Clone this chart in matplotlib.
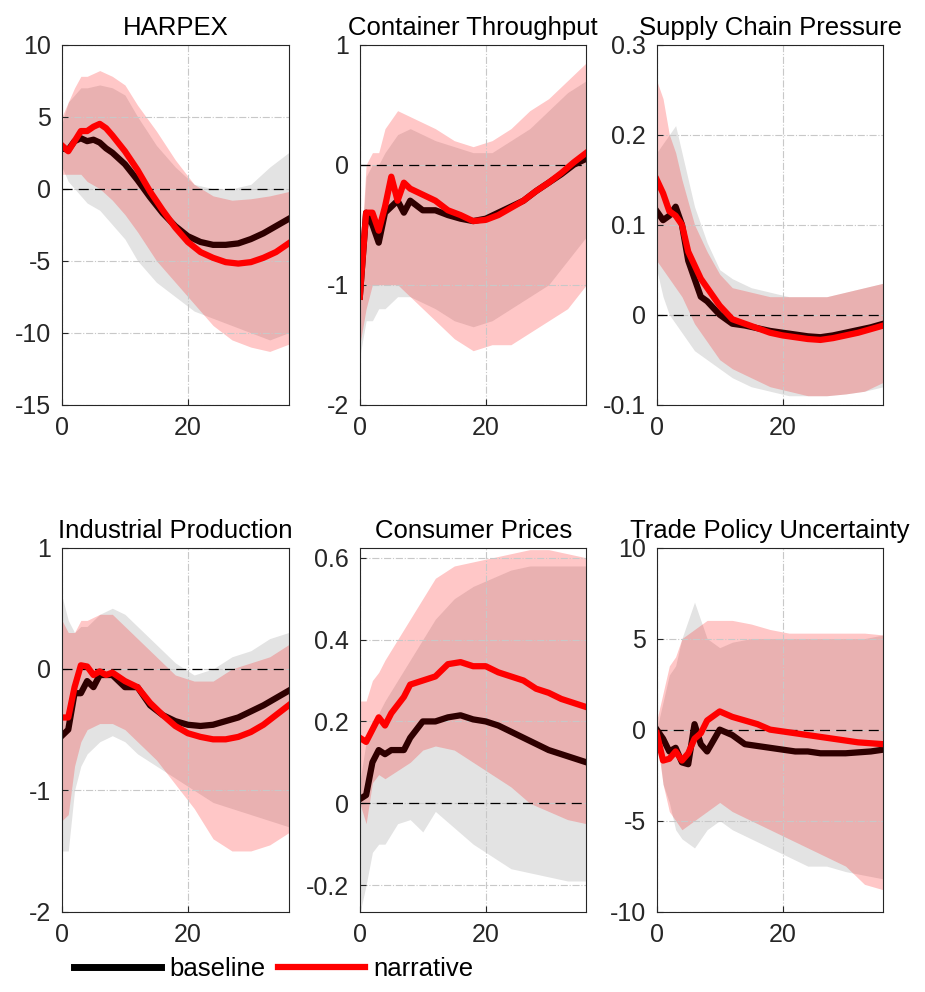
import numpy as np
import matplotlib
matplotlib.use("Agg")
import matplotlib.pyplot as plt

plt.rcParams['font.family'] = ['Liberation Sans', 'DejaVu Sans']

# horizons for medians and for bands
h = [0, 1, 2, 3, 4, 5, 6, 7, 8, 10, 12, 14, 16, 18, 20, 22, 24, 26, 28, 30, 32, 34, 36]
hb = [0, 1, 2, 3, 4, 6, 8, 10, 12, 15, 18, 21, 24, 27, 30, 33, 36]

titles = ["HARPEX", "Container Throughput", "Supply Chain Pressure",
          "Industrial Production", "Consumer Prices", "Trade Policy Uncertainty"]

# HARPEX
harpex_base = [2.8, 2.7, 3.3, 3.5, 3.3, 3.4, 3.2, 2.8, 2.5, 1.7, 0.6, -0.6, -1.7, -2.6, -3.3, -3.7, -3.9, -3.9, -3.8, -3.5, -3.1, -2.6, -2.1]
harpex_narr = [3.0, 2.6, 3.3, 4.0, 4.0, 4.3, 4.5, 4.2, 3.7, 2.6, 1.3, -0.2, -1.5, -2.7, -3.7, -4.4, -4.8, -5.1, -5.2, -5.1, -4.8, -4.4, -3.8]
harpex_base_hi = [4.5, 6, 6.5, 7, 7, 7.2, 7, 6.5, 5, 3, 1.5, 0.3, 0, 0, 0.3, 1.5, 2.5]
harpex_base_lo = [1.5, 0.5, 0, -0.5, -1, -1.5, -2.5, -3.5, -5, -6.5, -7.5, -8.5, -9, -9.5, -10, -10.5, -10]
harpex_narr_hi = [5, 6, 7, 7.8, 7.8, 8.2, 7.8, 7.2, 5.8, 4, 2, 0.3, -0.5, -0.8, -0.7, -0.5, -0.2]
harpex_narr_lo = [1, 1, 1, 1, 0.5, 0, -0.8, -1.8, -3, -5, -6.5, -8, -9.5, -10.5, -11, -11.3, -10.8]

# Container Throughput
cont_base = [-1.1, -0.4, -0.5, -0.65, -0.4, -0.35, -0.3, -0.4, -0.3, -0.38, -0.38, -0.42, -0.45, -0.47, -0.45, -0.4, -0.35, -0.3, -0.22, -0.15, -0.08, 0.0, 0.05]
cont_narr = [-1.1, -0.4, -0.4, -0.55, -0.35, -0.1, -0.3, -0.15, -0.2, -0.25, -0.3, -0.38, -0.42, -0.47, -0.46, -0.42, -0.36, -0.3, -0.22, -0.15, -0.07, 0.02, 0.1]
cont_base_hi = [-0.9, -0.1, 0, 0, 0.1, 0.25, 0.3, 0.25, 0.2, 0.15, 0.1, 0.1, 0.2, 0.3, 0.45, 0.6, 0.7]
cont_base_lo = [-1.6, -1.3, -1.3, -1.2, -1.2, -1.1, -1.1, -1.15, -1.2, -1.3, -1.35, -1.3, -1.2, -1.1, -1.0, -0.8, -0.6]
cont_narr_hi = [-0.9, 0, 0.1, 0.1, 0.3, 0.45, 0.4, 0.35, 0.3, 0.2, 0.15, 0.2, 0.3, 0.45, 0.55, 0.7, 0.85]
cont_narr_lo = [-1.5, -1.2, -1.0, -1.0, -1.0, -1.0, -1.1, -1.2, -1.3, -1.45, -1.55, -1.5, -1.5, -1.4, -1.3, -1.2, -1.0]

# Supply Chain Pressure
scp_base = [0.115, 0.105, 0.11, 0.12, 0.1, 0.06, 0.04, 0.02, 0.015, 0.0, -0.01, -0.012, -0.015, -0.018, -0.02, -0.022, -0.024, -0.025, -0.023, -0.02, -0.017, -0.014, -0.01]
scp_narr = [0.15, 0.135, 0.115, 0.11, 0.1, 0.07, 0.055, 0.04, 0.03, 0.01, -0.005, -0.01, -0.015, -0.02, -0.023, -0.025, -0.027, -0.028, -0.026, -0.023, -0.02, -0.016, -0.012]
scp_base_hi = [0.18, 0.19, 0.2, 0.21, 0.18, 0.12, 0.08, 0.05, 0.04, 0.03, 0.025, 0.02, 0.02, 0.02, 0.025, 0.03, 0.035]
scp_base_lo = [0.05, 0.02, 0.0, -0.01, -0.02, -0.04, -0.05, -0.06, -0.07, -0.08, -0.085, -0.09, -0.09, -0.09, -0.088, -0.085, -0.08]
scp_narr_hi = [0.26, 0.24, 0.2, 0.18, 0.15, 0.1, 0.07, 0.045, 0.03, 0.025, 0.02, 0.02, 0.02, 0.02, 0.025, 0.03, 0.035]
scp_narr_lo = [0.06, 0.05, 0.04, 0.03, 0.02, -0.01, -0.03, -0.05, -0.06, -0.07, -0.08, -0.085, -0.09, -0.09, -0.088, -0.085, -0.075]

# Industrial Production
ip_base = [-0.55, -0.5, -0.2, -0.2, -0.1, -0.15, -0.05, -0.05, -0.05, -0.15, -0.15, -0.3, -0.38, -0.43, -0.46, -0.47, -0.46, -0.43, -0.4, -0.35, -0.3, -0.24, -0.18]
ip_narr = [-0.4, -0.4, -0.15, 0.03, 0.02, -0.05, -0.02, -0.05, -0.03, -0.1, -0.15, -0.28, -0.38, -0.47, -0.53, -0.56, -0.58, -0.58, -0.56, -0.52, -0.46, -0.38, -0.3]
ip_base_hi = [0.6, 0.4, 0.3, 0.35, 0.35, 0.45, 0.5, 0.45, 0.35, 0.2, 0.05, -0.05, 0, 0.1, 0.15, 0.25, 0.3]
ip_base_lo = [-1.5, -1.5, -1.0, -0.8, -0.7, -0.6, -0.55, -0.6, -0.7, -0.8, -0.9, -1.0, -1.1, -1.15, -1.2, -1.25, -1.3]
ip_narr_hi = [0.4, 0.3, 0.3, 0.4, 0.4, 0.45, 0.45, 0.35, 0.25, 0.1, -0.05, -0.1, -0.1, 0, 0.05, 0.1, 0.2]
ip_narr_lo = [-1.25, -1.2, -0.8, -0.6, -0.5, -0.45, -0.45, -0.5, -0.6, -0.75, -0.95, -1.15, -1.4, -1.5, -1.5, -1.45, -1.35]

# Consumer Prices
cp_base = [0.01, 0.02, 0.1, 0.13, 0.12, 0.13, 0.13, 0.13, 0.16, 0.2, 0.2, 0.21, 0.215, 0.205, 0.2, 0.19, 0.175, 0.16, 0.145, 0.13, 0.12, 0.11, 0.1]
cp_narr = [0.16, 0.15, 0.18, 0.21, 0.19, 0.22, 0.24, 0.26, 0.29, 0.3, 0.31, 0.34, 0.345, 0.335, 0.335, 0.32, 0.31, 0.3, 0.28, 0.27, 0.255, 0.245, 0.235]
cp_base_hi = [0.05, 0.15, 0.2, 0.22, 0.25, 0.3, 0.35, 0.4, 0.45, 0.5, 0.53, 0.55, 0.57, 0.58, 0.58, 0.58, 0.58]
cp_base_lo = [-0.27, -0.2, -0.12, -0.1, -0.1, -0.05, -0.04, -0.07, -0.02, -0.06, -0.1, -0.13, -0.16, -0.17, -0.18, -0.19, -0.19]
cp_narr_hi = [0.25, 0.25, 0.3, 0.32, 0.35, 0.4, 0.45, 0.5, 0.55, 0.58, 0.59, 0.6, 0.61, 0.62, 0.62, 0.61, 0.6]
cp_narr_lo = [0.0, -0.05, 0.05, 0.07, 0.06, 0.08, 0.1, 0.13, 0.14, 0.13, 0.1, 0.07, 0.04, 0.0, -0.02, -0.04, -0.05]

# Trade Policy Uncertainty
tpu_base = [0, -0.5, -1.2, -1.0, -1.8, -1.9, 0.3, -0.8, -1.2, 0, -0.3, -0.8, -0.9, -1.0, -1.1, -1.2, -1.2, -1.3, -1.3, -1.3, -1.25, -1.2, -1.1]
tpu_narr = [-0.2, -1.7, -1.6, -1.2, -1.7, -1.3, -0.5, -0.2, 0.5, 1.0, 0.7, 0.5, 0.3, 0.0, -0.1, -0.2, -0.3, -0.4, -0.5, -0.6, -0.7, -0.75, -0.8]
tpu_base_hi = [0, 1.5, 3, 3.5, 5, 7, 5, 4.5, 4.8, 5, 5, 5, 5, 5, 5, 5, 5.2]
tpu_base_lo = [0, -3, -4, -5.5, -6, -6.5, -5.5, -5, -5.5, -6, -6.5, -7, -7.5, -7.5, -7.8, -8, -8.2]
tpu_narr_hi = [0.5, 2, 3.5, 4, 5, 5.5, 6, 6, 6, 5.8, 5.5, 5.3, 5.3, 5.3, 5.3, 5.3, 5.2]
tpu_narr_lo = [-0.5, -3, -4.5, -5, -5.5, -5, -4.5, -4, -4.5, -5, -5.5, -6, -6.5, -7, -7.5, -8.5, -8.8]

panels = [
    (harpex_base, harpex_narr, harpex_base_lo, harpex_base_hi, harpex_narr_lo, harpex_narr_hi),
    (cont_base, cont_narr, cont_base_lo, cont_base_hi, cont_narr_lo, cont_narr_hi),
    (scp_base, scp_narr, scp_base_lo, scp_base_hi, scp_narr_lo, scp_narr_hi),
    (ip_base, ip_narr, ip_base_lo, ip_base_hi, ip_narr_lo, ip_narr_hi),
    (cp_base, cp_narr, cp_base_lo, cp_base_hi, cp_narr_lo, cp_narr_hi),
    (tpu_base, tpu_narr, tpu_base_lo, tpu_base_hi, tpu_narr_lo, tpu_narr_hi),
]
ylims = [(-15, 10), (-2, 1), (-0.1, 0.3), (-2, 1), (-0.265, 0.625), (-10, 10)]
yticks = [[-15, -10, -5, 0, 5, 10], [-2, -1, 0, 1], [-0.1, 0, 0.1, 0.2, 0.3],
          [-2, -1, 0, 1], [-0.2, 0, 0.2, 0.4, 0.6], [-10, -5, 0, 5, 10]]
yticklabels = [["-15", "-10", "-5", "0", "5", "10"], ["-2", "-1", "0", "1"],
               ["-0.1", "0", "0.1", "0.2", "0.3"], ["-2", "-1", "0", "1"],
               ["-0.2", "0", "0.2", "0.4", "0.6"], ["-10", "-5", "0", "5", "10"]]

fig = plt.figure(figsize=(9.25, 9.92), dpi=100)
lefts = [0.067, 0.389, 0.710]
rows = [(0.592, 0.363), (0.081, 0.367)]

for i, (title, data) in enumerate(zip(titles, panels)):
    bottom, height = rows[i // 3]
    ax = fig.add_axes([lefts[i % 3], bottom, 0.245, height])
    base, narr, blo, bhi, nlo, nhi = data
    ax.fill_between(hb, blo, bhi, color='#e3e3e3', lw=0)
    ax.fill_between(hb, nlo, nhi, color='#ff0000', alpha=0.22, lw=0)
    ax.axhline(0, color='black', ls=(0, (8, 5)), lw=0.9)
    l1, = ax.plot(h, base, color='#2e0000', lw=4.5)
    l2, = ax.plot(h, narr, color='#ff0000', lw=4.5)
    ax.set_xlim(0, 36)
    ax.set_ylim(*ylims[i])
    ax.set_xticks([0, 20])
    ax.set_yticks(yticks[i])
    ax.set_yticklabels(yticklabels[i])
    ax.grid(True, color='#c8c8c8', ls='-.', lw=0.8)
    for s in ax.spines.values():
        s.set_color('#262626')
    ax.tick_params(direction='in', labelsize=18, length=4, pad=8, colors='#262626')
    ax.set_title(title, fontsize=18.5, pad=7)

h1, = fig.axes[0].plot([], [], color='black', lw=5)
fig.legend([h1, l2], ['baseline', 'narrative'], loc='lower left',
           bbox_to_anchor=(0.055, -0.012), ncol=2, frameon=False,
           fontsize=18.5, handlelength=3.4, columnspacing=0.5, handletextpad=0.3)

fig.savefig('out.png', dpi=100)
